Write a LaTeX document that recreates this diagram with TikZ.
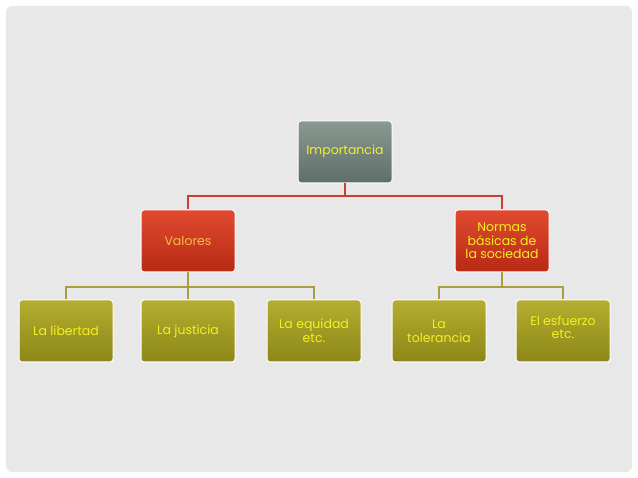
\documentclass[tikz,border=0pt]{standalone}
\usepackage{fontspec}
\setmainfont{Poppins}
\definecolor{bg}{HTML}{E8E8E8}
\definecolor{redline}{HTML}{C84030}
\definecolor{oliveline}{HTML}{A8A040}
\definecolor{txty}{HTML}{F4F020}
\definecolor{txto}{HTML}{F0C040}
\definecolor{gtop}{HTML}{8A9A92}
\definecolor{gbot}{HTML}{5E6E68}
\definecolor{rtop}{HTML}{E04A30}
\definecolor{rbot}{HTML}{B82A14}
\definecolor{otop}{HTML}{B4AE30}
\definecolor{obot}{HTML}{8C8618}
\tikzset{
 box/.style={rounded corners=3pt,minimum width=94pt,minimum height=62pt,align=center,font=\fontsize{12.5}{13.5}\selectfont,text=txty,draw=white,line width=1pt},
 graybox/.style={box,top color=gtop,bottom color=gbot},
 redbox/.style={box,top color=rtop,bottom color=rbot},
 olivebox/.style={box,top color=otop,bottom color=obot},
 redc/.style={redline,line width=1.5pt},
 olc/.style={oliveline,line width=1.5pt}
}
\begin{document}
\begin{tikzpicture}[x=1pt,y=-1pt]
\useasboundingbox (0,0) rectangle (638,478);
\fill[white] (0,0) rectangle (638,478);
\fill[bg,rounded corners=6pt] (6,6) rectangle (632,472);
\node[graybox] (imp) at (345,152) {\\[-6pt]Importancia};
\node[redbox,text=txto] (val) at (188,241) {Valores};
\node[redbox] (nor) at (502,241) {Normas\\básicas de\\la sociedad};
\node[olivebox] (lib) at (66,331) {La libertad};
\node[olivebox] (jus) at (188,331) {La justicia};
\node[olivebox] (equ) at (314,331) {La equidad\\etc.};
\node[olivebox] (tol) at (439,331) {La\\tolerancia};
\node[olivebox] (esf) at (563,331) {El esfuerzo\\etc.\\[-6pt]};
\coordinate (j1) at (345,196);
\draw[redc] (imp.south) -- (j1) -| (val.north);
\draw[redc] (j1) -| (nor.north);
\coordinate (j2) at (188,287);
\draw[olc] (val.south) -- (j2) -| (lib.north);
\draw[olc] (j2) -- (jus.north);
\draw[olc] (j2) -| (equ.north);
\coordinate (j3) at (502,287);
\draw[olc] (nor.south) -- (j3) -| (tol.north);
\draw[olc] (j3) -| (esf.north);
\end{tikzpicture}
\end{document}
